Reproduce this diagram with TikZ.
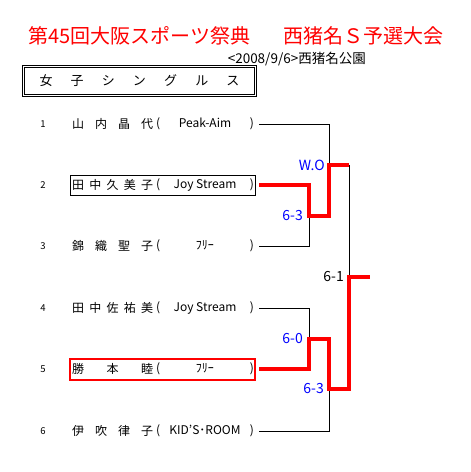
\documentclass[tikz,border=0pt]{standalone}
\usepackage{fontspec}
\setmainfont{Noto Sans CJK JP}
\usetikzlibrary{positioning, calc}
\definecolor{tnRed}{HTML}{FF0000}
\definecolor{tnBlue}{HTML}{0000FF}
\newcommand{\tnspread}[2]{\makebox[#1][s]{#2}}

\begin{document}
\begin{tikzpicture}[x=1pt, y=-1pt,
  headline/.style={anchor=west, inner sep=0, text=tnRed, font=\fontsize{20}{24}\selectfont},
  num/.style={inner sep=0, font=\fontsize{9.5}{11}\selectfont},
  player/.style={anchor=west, inner sep=0, font=\fontsize{12}{14}\selectfont},
  team/.style={inner sep=0, outer sep=5pt, font=\fontsize{12}{14}\selectfont},
  score/.style={inner sep=0, text=tnBlue, font=\fontsize{14}{16}\selectfont},
  wire/.style={line width=1pt},
  win/.style={line width=3.5pt, tnRed},
  pick/.style={draw, minimum width=185pt, minimum height=20pt, inner sep=0}
]
\useasboundingbox (0,0) rectangle (471,472);

% heading
\node[headline] (ttl1) at (28,36) {第45回大阪スポーツ祭典};
\node[headline] (ttl2) at (283,36) {西猪名Ｓ予選大会};
\node[anchor=east, inner sep=0, font=\fontsize{13.5}{15}\selectfont] (date) at (366,59) {\textless 2008/9/6\textgreater 西猪名公園};
\node[draw, line width=1pt, minimum width=234pt, minimum height=31pt, inner sep=0] (frame) at (139.5,81) {};
\node[draw, line width=0.8pt, minimum width=229.5pt, minimum height=27pt, inner sep=0,
  font=\fontsize{13}{15}\selectfont] (event) at (139.5,81)
  {\tnspread{200pt}{女\hfill 子\hfill シ\hfill ン\hfill グ\hfill ル\hfill ス}};

% players
\node[num] (k1) at (43,124) {1};
\node[player] (n1) at (72,124) {\tnspread{81pt}{山\hfill 内\hfill 晶\hfill 代}};
\node[team] (t1) at (205,124) {\tnspread{98pt}{(\hfill Peak-Aim\hfill )}};

\node[num] (k2) at (43,185) {2};
\node[player] (n2) at (72,185) {\tnspread{81pt}{田\hfill 中\hfill 久\hfill 美\hfill 子}};
\node[team] (t2) at (205,185) {\tnspread{98pt}{(\hfill Joy Stream\hfill )}};
\node[pick, line width=1pt] (b2) at (162.5,185) {};

\node[num] (k3) at (43,246) {3};
\node[player] (n3) at (72,246) {\tnspread{81pt}{錦\hfill 織\hfill 聖\hfill 子}};
\node[team] (t3) at (205,246) {\tnspread{98pt}{(\hfill ﾌﾘｰ\hfill )}};

\node[num] (k4) at (43,308) {4};
\node[player] (n4) at (72,308) {\tnspread{81pt}{田\hfill 中\hfill 佐\hfill 祐\hfill 美}};
\node[team] (t4) at (205,308) {\tnspread{98pt}{(\hfill Joy Stream\hfill )}};

\node[num] (k5) at (43,369) {5};
\node[player] (n5) at (72,369) {\tnspread{81pt}{勝\hfill 本\hfill 睦}};
\node[team] (t5) at (205,369) {\tnspread{98pt}{(\hfill ﾌﾘｰ\hfill )}};
\node[pick, tnRed, line width=2.5pt, minimum height=21pt] (b5) at (162.5,369.5) {};

\node[num] (k6) at (43,431) {6};
\node[player] (n6) at (72,431) {\tnspread{81pt}{伊\hfill 吹\hfill 律\hfill 子}};
\node[team] (t6) at (205,431) {\tnspread{98pt}{(\hfill KID'S･ROOM\hfill )}};

% bracket
\coordinate (m23) at (309,216);
\coordinate (m1) at (329,165);
\coordinate (m45) at (309,339);
\coordinate (m6) at (329,389);
\coordinate (top) at (349,165);
\coordinate (bot) at (349,389);
\coordinate (fin) at (349,277);
\coordinate (champ) at (370,277);

\draw[wire] (t1.east) -| (m1);
\draw[wire] (t3.east) -| (m23);
\draw[wire] (t4.east) -| (m45);
\draw[wire] (t6.east) -| (m6);
\draw[wire] (top) -- (fin);
\draw[win] (t2.east) -| (m23) -| (m1) -- (top);
\draw[win] (t5.east) -| (m45) -| (m6) -- (bot) -- (fin) -- (champ);

\node[score, left=6pt of m23] (s23) {6-3};
\node[score, left=4pt of m1] (s1) {W.O};
\node[score, left=6pt of m45] (s45) {6-0};
\node[score, left=5pt of m6] (s6) {6-3};
\node[score, text=black, left=5pt of fin] (sf) {6-1};
\end{tikzpicture}
\end{document}
